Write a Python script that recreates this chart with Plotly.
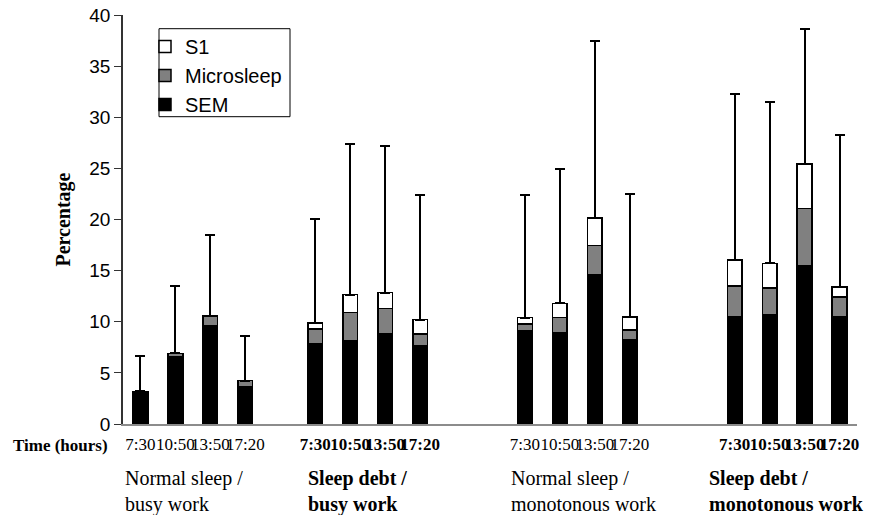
import plotly.graph_objects as go

# ---- data ----
groups = [["Normal sleep /", "busy work"], ["Sleep debt /", "busy work"],
          ["Normal sleep /", "monotonous work"], ["Sleep debt /", "monotonous work"]]
group_bold = [False, True, False, True]
times = ["7:30", "10:50", "13:50", "17:20"]

sem = [3.1, 6.6, 9.6, 3.65,
       7.85, 8.1, 8.85, 7.65,
       9.1, 8.95, 14.55, 8.25,
       10.5, 10.65, 15.45, 10.5]
microsleep = [0.1, 0.3, 0.95, 0.6,
              1.45, 2.8, 2.45, 1.15,
              0.7, 1.45, 2.9, 0.95,
              3.0, 2.65, 5.65, 1.9]
s1 = [0.0, 0.0, 0.0, 0.0,
      0.6, 1.75, 1.55, 1.4,
      0.6, 1.4, 2.7, 1.25,
      2.55, 2.4, 4.35, 1.0]
sd_upper = [3.45, 6.6, 7.95, 4.35,
            10.15, 14.75, 14.35, 12.2,
            11.95, 13.15, 17.3, 12.05,
            16.25, 15.8, 13.15, 14.9]

y_ticks = [0, 5, 10, 15, 20, 25, 30, 35, 40]

# ---- layout of slots (positions, not data) ----
group_start = [0, 5, 11, 17]
xpos = []
ticktext = []
for gi, g0 in enumerate(group_start):
    for ti, t in enumerate(times):
        xpos.append(g0 + ti)
        ticktext.append(f"<b>{t}</b>" if group_bold[gi] else t)

SERIF = "Liberation Serif, Times New Roman, serif"
SANS = "Liberation Sans, Arial, sans-serif"
BW = 0.42
line = dict(color="black", width=1.5)

fig = go.Figure()
fig.add_trace(go.Bar(x=xpos, y=sem, name="SEM", width=BW,
                     marker=dict(color="black", line=line), legendgroup="a"))
fig.add_trace(go.Bar(x=xpos, y=microsleep, name="Microsleep", width=BW,
                     marker=dict(color="#808080", line=line), legendgroup="b"))
fig.add_trace(go.Bar(x=xpos, y=s1, name="S1", width=BW,
                     marker=dict(color="white", line=line), legendgroup="c",
                     error_y=dict(type="data", array=sd_upper,
                                  arrayminus=[0] * len(sd_upper), symmetric=False,
                                  color="black", thickness=2, width=5)))

H = 409.0  # plot-area height in px
def py(px):  # pixel row -> paper y
    return (424 - px) / H

annotations = [
    dict(text="<b>Percentage</b>", x=-0.0817, y=0.5, xref="paper", yref="paper",
         textangle=-90, showarrow=False, font=dict(family=SERIF, size=20, color="black"),
         xanchor="center", yanchor="middle"),
    dict(text="<b>Time (hours)</b>", x=-0.0177, y=py(445), xref="paper", yref="paper",
         showarrow=False, font=dict(family=SERIF, size=17, color="black"),
         xanchor="right", yanchor="middle"),
]
label_x = [-0.49, 4.73, 10.53, 16.22]
for gi, lines in enumerate(groups):
    for li, txt in enumerate(lines):
        if group_bold[gi]:
            txt = f"<b>{txt}</b>"
        annotations.append(dict(text=txt, x=label_x[gi], y=py(478 + 26 * li),
                                xref="x", yref="paper", showarrow=False,
                                align="left", xanchor="left", yanchor="middle",
                                font=dict(family=SERIF, size=20, color="black")))

legend_box = dict(type="rect", xref="paper", yref="paper",
                  x0=(159 - 123) / 734, x1=(290 - 123) / 734,
                  y0=py(116.7), y1=py(28.7),
                  line=dict(color="black", width=1), fillcolor="white", layer="below")

fig.update_layout(
    template="none",
    barmode="stack",
    width=888, height=515,
    margin=dict(l=123, r=31, t=15, b=91),
    plot_bgcolor="white", paper_bgcolor="white",
    showlegend=True,
    legend=dict(x=(145 - 123) / 734, y=py(27), xanchor="left", yanchor="top",
                traceorder="reversed", bgcolor="rgba(0,0,0,0)",
                borderwidth=0,
                font=dict(family=SANS, size=20, color="black"),
                itemwidth=30, tracegroupgap=4),
    xaxis=dict(range=[-0.5, 20.5], tickmode="array", tickvals=xpos, ticktext=ticktext,
               tickangle=0, ticks="", showgrid=False, zeroline=False, automargin=False,
               showline=True, linecolor="#8c8c8c", linewidth=2,
               ticklabelstandoff=4,
               tickfont=dict(family=SERIF, size=17, color="black")),
    yaxis=dict(range=[0, 40], tickmode="array", tickvals=y_ticks, automargin=False,
               ticks="outside", ticklen=7, tickcolor="#333", tickwidth=1,
               showgrid=False, zeroline=False, showline=True,
               linecolor="#333", linewidth=1.5,
               tickfont=dict(family=SANS, size=19, color="black")),
    shapes=[legend_box],
    annotations=annotations,
)

fig.write_html("out.html")
